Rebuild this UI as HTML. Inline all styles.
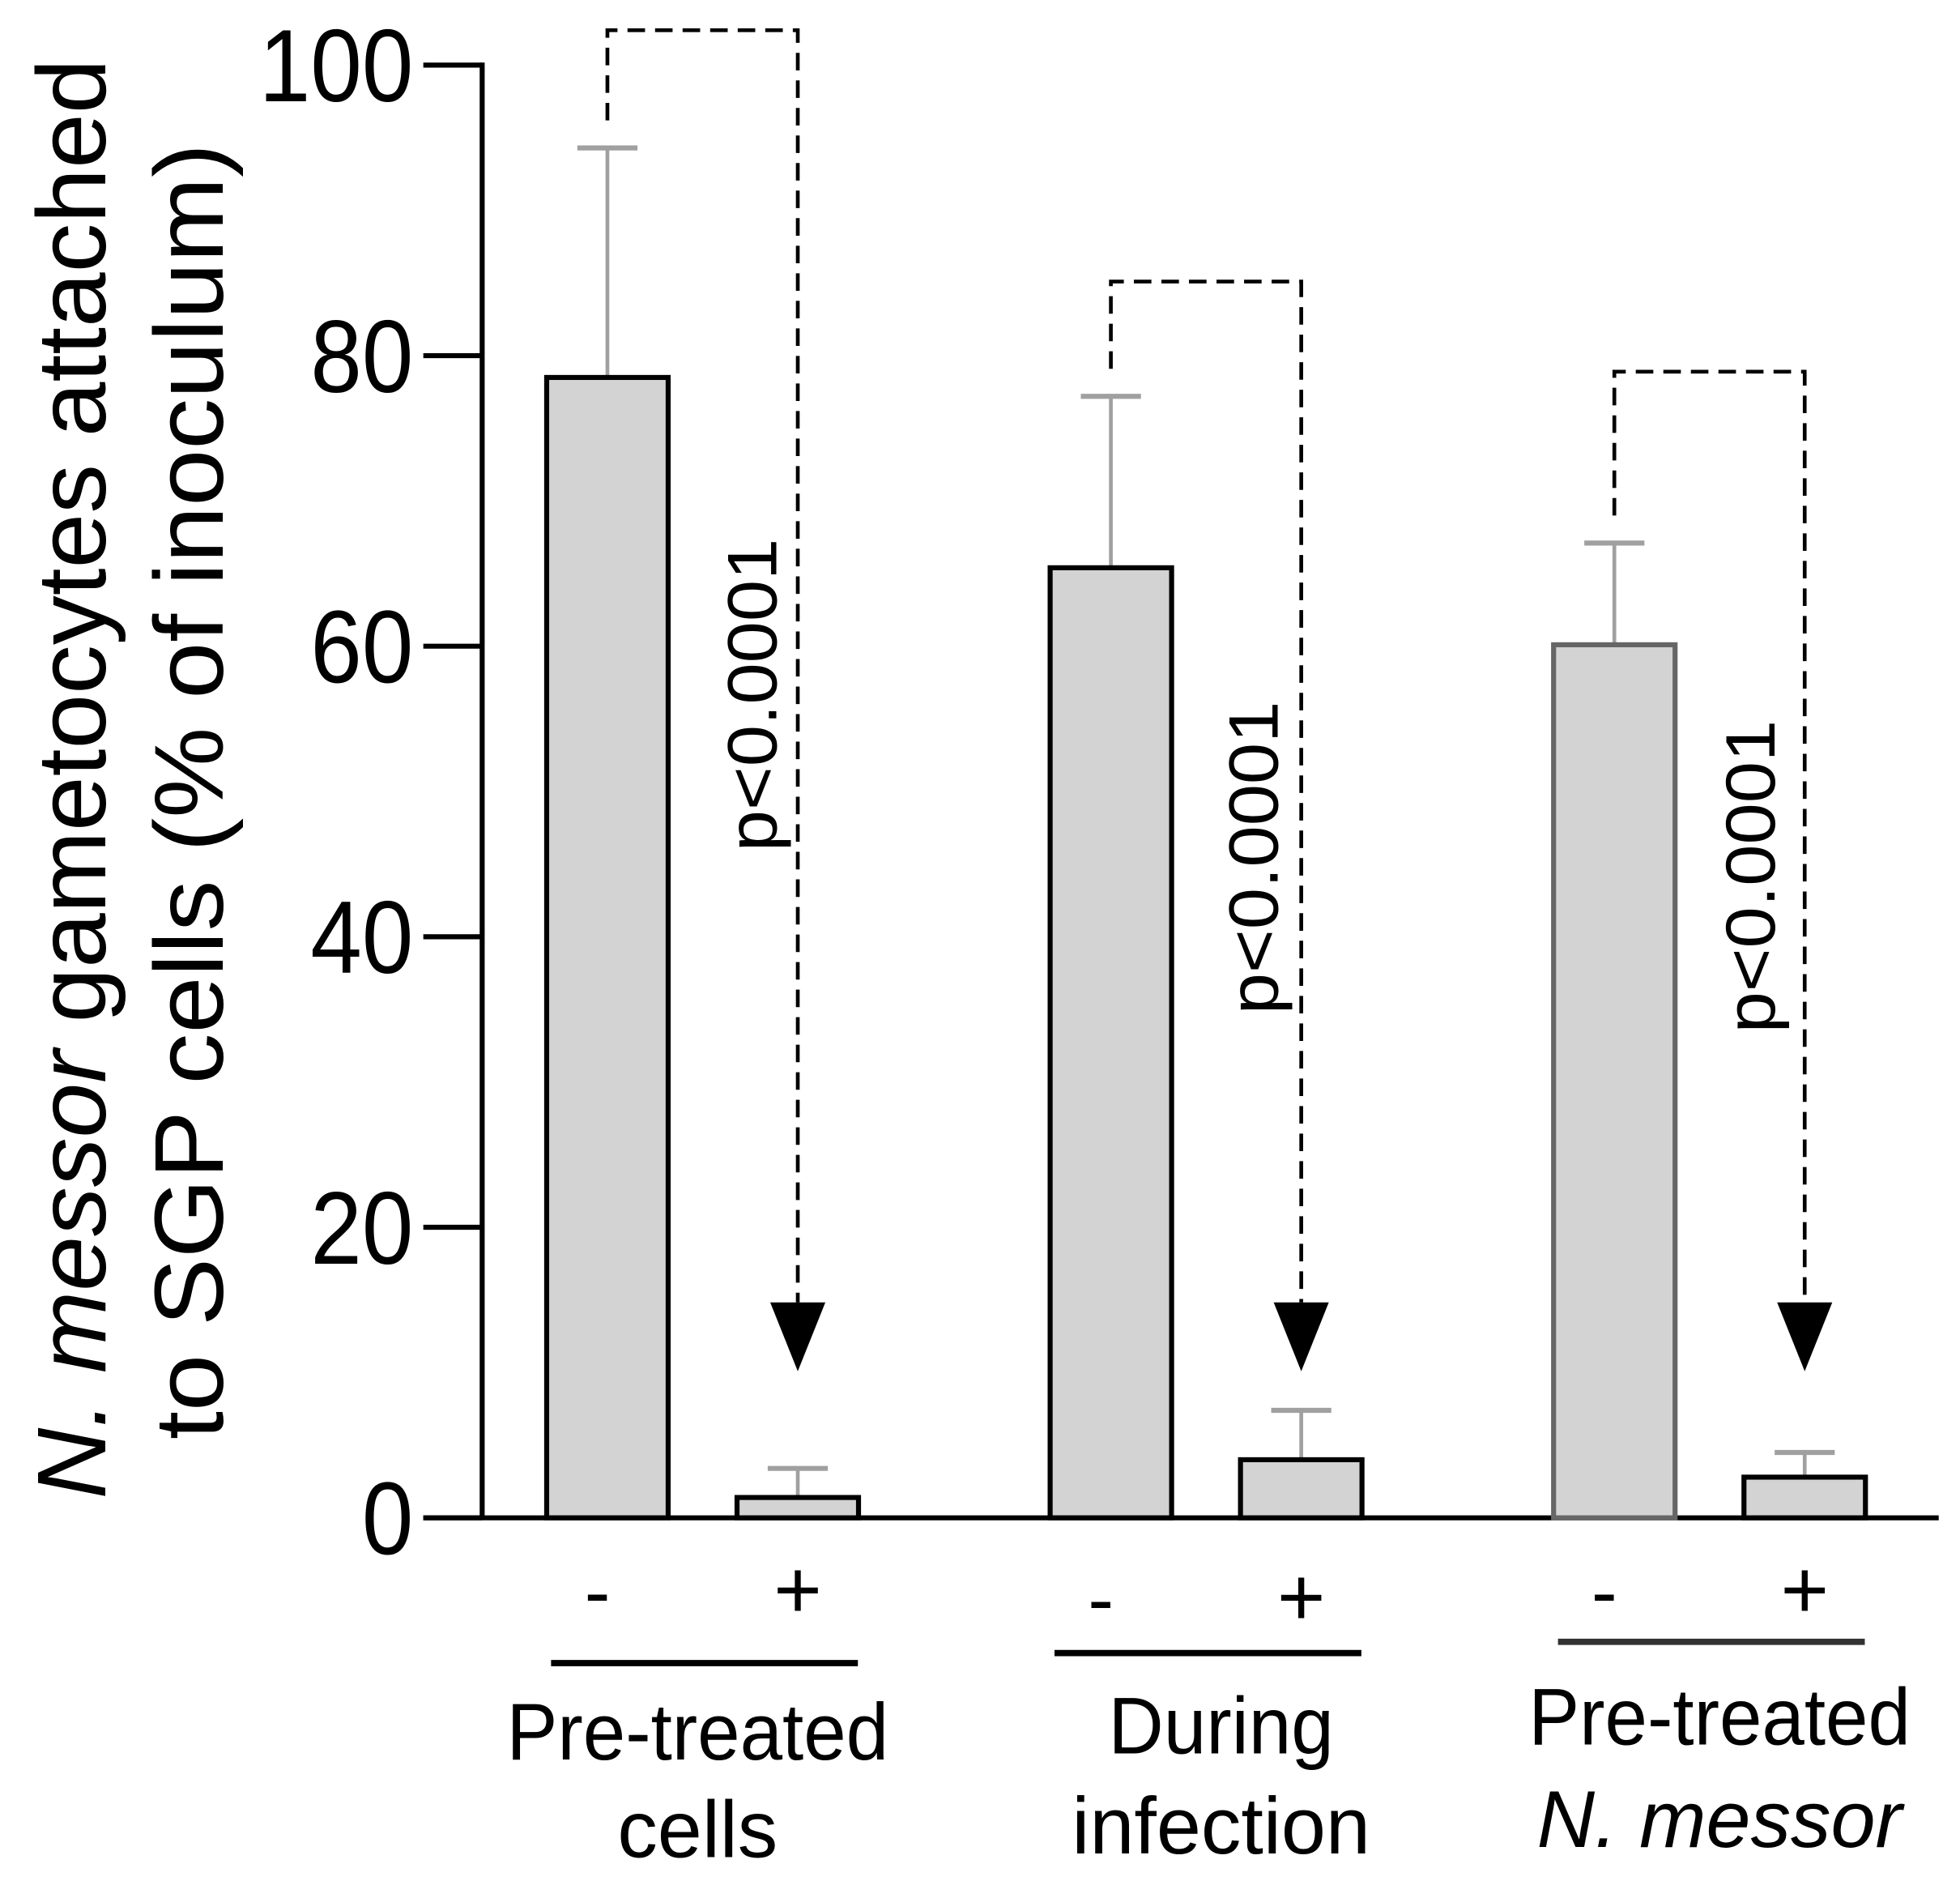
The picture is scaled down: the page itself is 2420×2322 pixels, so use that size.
<!DOCTYPE html>
<html><head><meta charset="utf-8"><style>
html,body{margin:0;padding:0;background:#fff;}
svg{display:block;}
text{font-family:"Liberation Sans",Arial,sans-serif;fill:#000;}
</style></head><body>
<svg id="chart" width="2420" height="2322" viewBox="0 0 1565 1502" preserveAspectRatio="none" xmlns="http://www.w3.org/2000/svg">
<g id="title">
<text transform="translate(84,622) rotate(-90)" text-anchor="middle" font-size="78" textLength="1150" lengthAdjust="spacingAndGlyphs"><tspan font-style="italic">N. messor</tspan> gametocytes attached</text>
<text transform="translate(178,632) rotate(-90)" text-anchor="middle" font-size="78" textLength="1035" lengthAdjust="spacingAndGlyphs">to SGP cells (% of inoculum)</text>
</g>
<g id="axes"></g>
<g id="bars"></g>
<g id="annot"></g>
</svg>
<script>
const categories = ["Pre-treated cells", "During infection", "Pre-treated N. messor"];
const minusValues = [78.5, 65.4, 60.1];
const minusErrors = [15.8, 11.8, 7.0];
const plusValues = [1.4, 4.0, 2.8];
const plusErrors = [2.0, 3.4, 1.7];
const bracketTops = [102.4, 85.1, 78.9];
const tickValues = [0, 20, 40, 60, 80, 100];
const pLabels = ["p<0.0001", "p<0.0001", "p<0.0001"];

const NS = "http://www.w3.org/2000/svg";
const y0 = 1212, y100 = 52;
function yScale(v){ return y0 - (v/100)*(y0-y100); }
const groupX = [485, 887, 1289];
const plusOffset = 152;
const barW = 97;
function mk(tag, attrs, parent){ const e=document.createElementNS(NS,tag); for(const k in attrs) e.setAttribute(k,attrs[k]); parent.appendChild(e); return e; }

const axes = document.getElementById('axes');
const yAxis = mk('line',{x1:385,y1:y100-2,x2:385,y2:y0,stroke:'#000','stroke-width':4},axes);


const xAxis = mk('line',{x1:338,y1:y0,x2:1548,y2:y0,stroke:'#000','stroke-width':4},axes);


tickValues.forEach(v=>{
  const t = mk('line',{x1:338,y1:yScale(v),x2:385,y2:yScale(v),stroke:'#000','stroke-width':4},axes);
  
  
  const l = mk('text',{x:330,y:yScale(v)+29,'text-anchor':'end','font-size':82,transform:`translate(330,0) scale(0.9,1) translate(-330,0)`},axes);
  l.textContent = v;
  
  
});

const bars = document.getElementById('bars');
function drawBar(cx, val, err, stroke, name){
  const top = yScale(val);
  const e = mk('line',{x1:cx,y1:yScale(val+err),x2:cx,y2:top,stroke:'#a0a0a0','stroke-width':3},bars);
  
  
  const c = mk('line',{x1:cx-24,y1:yScale(val+err),x2:cx+24,y2:yScale(val+err),stroke:'#a0a0a0','stroke-width':4},bars);
  
  
  const r = mk('rect',{x:cx-barW/2,y:top,width:barW,height:y0-top,fill:'#d3d3d3',stroke:stroke,'stroke-width':4},bars);
  
  
}
const annot = document.getElementById('annot');
categories.forEach((cat,i)=>{
  const gx = groupX[i], px = gx+plusOffset;
  drawBar(gx, minusValues[i], minusErrors[i], i===2?'#666':'#000', 'bar-minus-'+(i+1));
  drawBar(px, plusValues[i], plusErrors[i], '#000', 'bar-plus-'+(i+1));
  const topY = yScale(bracketTops[i]);
  const br = mk('polyline',{points:`${gx},${yScale(minusValues[i]+minusErrors[i])-22} ${gx},${topY} ${px},${topY} ${px},1040`,fill:'none',stroke:'#000','stroke-width':3,'stroke-dasharray':'14,8'},annot);
  
  
  const ar = mk('polygon',{points:`${px-22},1040 ${px+22},1040 ${px},1095`,fill:'#000'},annot);
  
  
  const pcx = [600,1000,1397][i], pcy = [555,685,700][i];
  const pt = mk('text',{transform:`translate(${pcx+20},${pcy}) rotate(-90)`,'text-anchor':'middle','font-size':56,textLength:250,lengthAdjust:'spacingAndGlyphs'},annot);
  pt.textContent = pLabels[i];
  
  
  const ly = [1292,1298,1292][i];
  const m = mk('text',{x:gx-8,y:ly,'text-anchor':'middle','font-size':62},annot);
  m.textContent='-';
  
  
  const p = mk('text',{x:px,y:ly,'text-anchor':'middle','font-size':66},annot);
  p.textContent='+';
  
  
  const uy = [1328,1320,1311][i];
  const u = mk('line',{x1:gx-45,y1:uy,x2:gx+200,y2:uy,stroke:i===2?'#333':'#000','stroke-width':5},annot);
  
  
});
const catLines = [["Pre-treated","cells",557,1405,1483,false],["During","infection",975,1400,1480,false],["Pre-treated","N. messor",1373,1393,1475,true]];
catLines.forEach((c,i)=>{
  const t1 = mk('text',{x:c[2],y:c[3],'text-anchor':'middle','font-size':64,textLength:305,lengthAdjust:'spacingAndGlyphs'},annot);
  t1.textContent=c[0];
  if(c[0]==='During'){ t1.setAttribute('textLength','180'); }
  
  
  const t2 = mk('text',{x:c[2],y:c[4],'text-anchor':'middle','font-size':64,'font-style':c[5]?'italic':'normal'},annot);
  t2.textContent=c[1];
  
  
});
</script>
</body></html>
